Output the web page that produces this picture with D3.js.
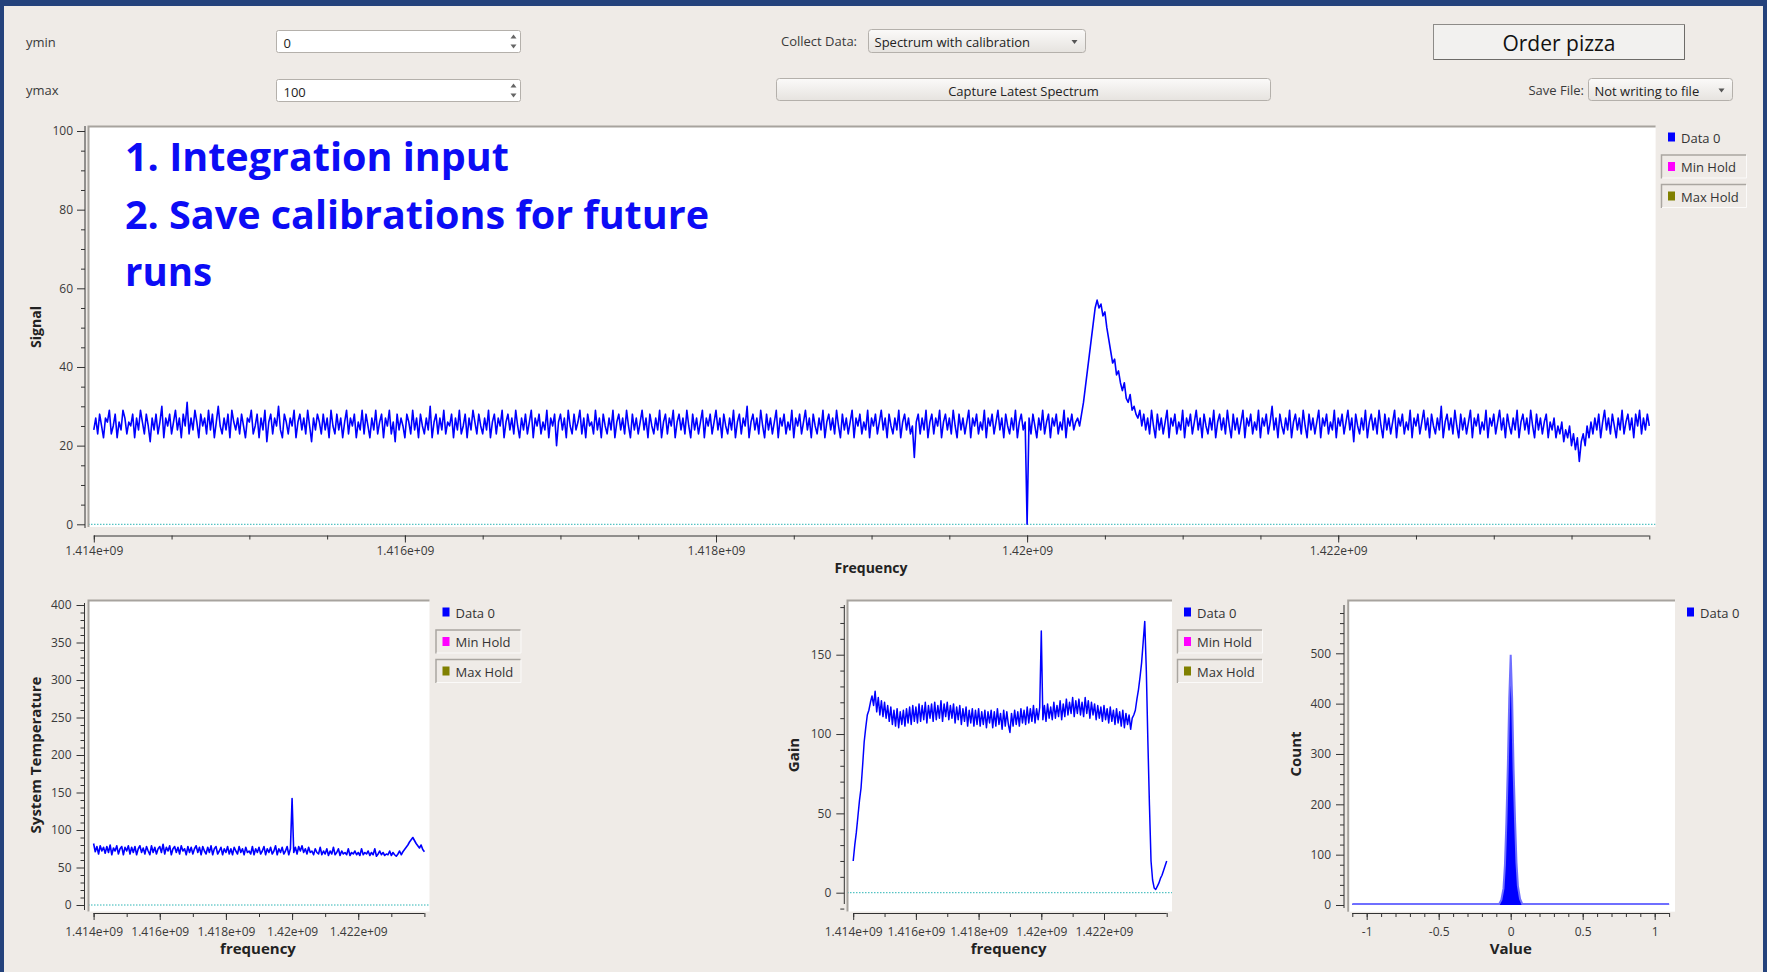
<!DOCTYPE html>
<html>
<head>
<meta charset="utf-8">
<script src="https://cdn.jsdelivr.net/npm/d3@7"></script>
<style>
  body { margin: 0; background: #efebe7; overflow: hidden; }
  svg text { font-family: "Open Sans", "Noto Sans", sans-serif; }
</style>
</head>
<body>
<svg id="app" width="1767" height="972"></svg>
<script>
// ---------------------------------------------------------------
// data
// ---------------------------------------------------------------
const freqStart = 1.414e9;
const freqStop = 1.424e9;

// Signal, 801 bins from 1.414e9 to 1.424e9
const signalValues = [
  24,27,23,28,25,22,27,26,29,23,25,28,22,26,24,29,27,23,26,25,
  28,22,27,24,29,26,23,28,25,21,27,24,28,23,26,30,22,27,25,28,
  23,26,29,24,27,22,28,25,31,23,27,24,29,26,22,28,25,27,23,29,
  24,28,22,26,30,25,23,27,24,28,22,29,26,24,27,23,28,25,22,27,
  26,29,23,25,28,22,27,24,29,21,26,28,23,27,25,30,24,22,28,26,
  23,27,25,29,22,26,28,24,27,23,29,25,21,27,24,28,26,23,28,24,
  27,22,29,25,23,28,24,27,22,26,29,23,27,25,28,22,26,24,29,23,
  28,25,22,27,24,29,23,26,28,22,27,25,29,23,26,21,28,24,27,25,
  22,28,26,23,29,24,27,22,28,25,23,27,24,30,22,26,28,23,27,24,
  29,23,26,25,28,22,27,24,29,23,25,28,22,27,24,29,26,23,28,25,
  23,27,24,29,22,26,28,23,27,25,29,22,26,28,24,27,23,29,25,22,
  27,24,28,23,26,29,22,27,25,28,23,26,24,29,22,27,25,28,20,26,
  28,24,27,22,29,25,23,28,24,26,29,23,27,22,28,25,26,23,29,24,
  27,22,28,25,23,27,24,29,22,26,28,24,27,23,29,25,22,28,24,27,
  23,26,29,24,27,22,28,25,23,27,24,29,22,26,28,23,27,25,29,22,
  26,28,24,27,23,29,25,22,28,24,27,23,26,29,22,27,25,28,23,26,
  29,24,27,22,28,25,23,27,24,29,22,26,28,23,27,25,30,22,26,28,
  24,27,23,29,25,22,28,24,27,23,26,29,22,27,25,28,23,26,24,29,
  22,27,25,28,23,26,29,24,27,22,28,25,23,27,24,29,22,26,28,24,
  27,23,29,25,22,28,24,27,23,26,29,22,27,25,28,23,26,24,29,22,
  27,25,28,23,26,29,24,27,22,28,25,23,27,24,29,22,26,28,24,27,
  23,25,17,26,28,23,27,24,29,22,26,28,23,27,25,29,22,26,28,24,
  27,23,29,25,22,28,24,27,23,26,29,22,27,25,28,23,26,24,29,22,
  27,25,28,23,26,29,24,27,22,28,25,23,27,24,29,22,26,28,24,26,
  0,27,23,28,25,22,27,24,29,23,26,28,22,27,25,28,23,26,24,29,
  22,27,25,28,24,26,27,25,28,31,35,39,43,47,51,55,57,55,56,53,
  54,50,47,44,41,42,38,39,36,34,36,32,31,33,29,30,28,27,29,25,
  28,24,27,23,29,25,22,28,24,27,23,26,29,22,27,25,28,23,26,24,
  29,22,27,25,28,23,26,29,24,27,22,28,25,23,27,24,29,22,26,28,
  24,27,23,29,25,22,28,24,27,23,26,29,22,27,25,28,23,26,24,29,
  22,27,25,28,23,26,30,24,27,22,28,25,23,27,24,29,22,26,28,24,
  27,23,29,25,22,28,24,27,23,26,29,22,27,25,28,23,26,24,29,22,
  27,25,28,23,26,29,24,27,21,28,25,23,27,24,29,22,26,28,24,27,
  23,29,25,22,28,24,27,23,26,29,22,27,25,28,23,26,24,29,22,27,
  25,28,23,26,29,24,27,22,28,25,23,27,24,30,22,26,28,24,27,23,
  29,25,22,28,24,27,23,26,29,22,27,25,28,23,26,24,29,22,27,25,
  28,23,26,29,24,27,22,28,25,23,27,24,29,22,26,28,24,27,23,29,
  25,22,28,24,27,23,26,28,22,26,24,27,22,25,23,26,21,24,22,25,
  20,23,19,22,16,21,23,20,25,22,26,23,27,24,28,22,26,29,24,27,
  23,28,25,22,27,24,29,23,26,28,24,27,22,28,25,29,23,27,24,28,
  25
];

// System temperature, 201 bins
const tempValues = [
  82,71,78,68,79,72,77,69,78,70,80,67,76,72,79,68,75,78,67,77,
  72,79,68,77,70,78,67,75,79,70,76,68,78,72,67,79,70,77,68,75,
  78,70,81,68,77,72,79,67,75,78,70,77,68,79,72,75,67,78,70,77,
  68,75,79,70,77,67,78,72,68,77,70,79,67,75,78,68,72,77,67,75,
  70,78,68,75,67,77,72,68,78,70,75,67,77,70,72,68,78,67,75,70,
  77,68,72,78,67,75,70,77,68,72,79,67,75,70,77,68,72,78,67,75,
  142,70,77,68,78,72,79,70,75,68,77,70,72,67,75,70,68,77,67,72,
  68,75,66,72,68,77,67,70,75,66,72,68,70,67,75,66,70,68,72,67,
  70,66,75,67,70,68,72,66,70,67,75,65,68,72,67,70,66,68,67,72,
  66,70,67,65,68,72,67,71,74,77,80,84,87,90,86,82,79,76,80,74,
  71
];

// Gain, 201 bins
const gainValues = [
  20,30,38,48,58,66,80,95,104,112,115,120,124,118,127,114,123,112,121,111,
  120,110,118,108,117,106,115,105,116,104,114,106,115,105,116,107,117,106,118,108,
  117,107,119,108,118,109,120,107,118,110,119,108,120,109,118,110,121,108,119,111,
  120,109,118,110,119,107,117,109,118,106,116,108,117,105,115,107,116,105,115,106,
  116,105,114,106,115,104,114,107,115,104,114,105,116,106,113,103,115,105,114,106,
  101,113,105,115,106,114,105,116,107,115,106,117,107,116,108,118,107,116,109,117,
  165,109,118,108,119,110,117,109,120,110,118,111,121,109,119,111,122,112,120,113,
  123,111,121,113,122,112,120,111,123,113,121,110,120,112,119,109,118,110,117,108,
  118,109,116,107,117,108,115,106,116,107,114,105,115,104,113,106,112,103,110,112,
  115,122,128,136,145,158,171,140,95,55,20,8,3,2,4,6,9,11,14,17,
  20
];

// Histogram
const histValues = [-1.1, -0.08, -0.065, -0.05, -0.04, -0.03, -0.02, -0.01, 0, 0.01, 0.02, 0.03, 0.04, 0.05, 0.065, 0.08, 1.1];
const histCounts = [2, 2, 10, 33, 80, 165, 275, 410, 497, 410, 270, 170, 85, 38, 12, 2, 2];

// tick labels
const freqTicks = [1.414e9, 1.416e9, 1.418e9, 1.42e9, 1.422e9];
const signalTicks = [0, 20, 40, 60, 80, 100];
const tempTicks = [0, 50, 100, 150, 200, 250, 300, 350, 400];
const gainTicks = [0, 50, 100, 150];
const countTicks = [0, 100, 200, 300, 400, 500];
const valueTicks = [-1, -0.5, 0, 0.5, 1];

const legendNames = ["Data 0", "Min Hold", "Max Hold"];
const legendColors = ["#0000ff", "#ff00ff", "#808000"];

const noteLines = ["1. Integration input", "2. Save calibrations for future", "runs"];

// ---------------------------------------------------------------

const svg = d3.select("#app");
const TXT = "#3a3a3a";

const defs = svg.append("defs");
const grad = defs.append("linearGradient").attr("id", "btn").attr("x1", 0).attr("y1", 0).attr("x2", 0).attr("y2", 1);
grad.append("stop").attr("offset", "0%").attr("stop-color", "#fbfaf9");
grad.append("stop").attr("offset", "100%").attr("stop-color", "#e6e3df");

// window edges (desktop behind)
svg.append("rect").attr("x", 0).attr("y", 0).attr("width", 1767).attr("height", 6).attr("fill", "#24427c");
svg.append("rect").attr("x", 0).attr("y", 0).attr("width", 4).attr("height", 972).attr("fill", "#24427c");
svg.append("rect").attr("x", 1763).attr("y", 0).attr("width", 4).attr("height", 972).attr("fill", "#24427c");

const freqFormat = v => (+(v / 1e9).toFixed(4)) + "e+09";

function label(x, y, text, opts = {}) {
    return svg.append("text")
        .attr("x", x).attr("y", y)
        .attr("dominant-baseline", "central")
        .attr("text-anchor", opts.anchor || "start")
        .attr("font-size", opts.size || 13)
        .attr("font-weight", opts.weight || 400)
        .attr("fill", opts.color || TXT)
        .text(text);
}

function spinBox(x, y, w, h, value) {
    svg.append("rect").attr("x", x).attr("y", y).attr("width", w).attr("height", h)
        .attr("rx", 2).attr("fill", "#fff").attr("stroke", "#b4b0ab");
    label(x + 7, y + h / 2 + 1, value, { size: 13, color: "#222" });
    const ax = x + w - 7;
    svg.append("path").attr("d", `M${ax - 3},${y + 8}L${ax + 3},${y + 8}L${ax},${y + 4}Z`).attr("fill", "#666");
    svg.append("path").attr("d", `M${ax - 3},${y + h - 8}L${ax + 3},${y + h - 8}L${ax},${y + h - 4}Z`).attr("fill", "#666");
}

function button(x, y, w, h, text, size) {
    svg.append("rect").attr("x", x).attr("y", y).attr("width", w).attr("height", h)
        .attr("rx", 3).attr("fill", "url(#btn)").attr("stroke", "#b4b0ab");
    label(x + w / 2, y + h / 2 + 1, text, { anchor: "middle", size: size, color: "#222" });
}

function combo(x, y, w, h, text) {
    svg.append("rect").attr("x", x).attr("y", y).attr("width", w).attr("height", h)
        .attr("rx", 3).attr("fill", "url(#btn)").attr("stroke", "#b4b0ab");
    label(x + 6, y + h / 2 + 1, text, { size: 13, color: "#222" });
    const ax = x + w - 11;
    svg.append("path").attr("d", `M${ax - 3},${y + h / 2 - 1}L${ax + 3},${y + h / 2 - 1}L${ax},${y + h / 2 + 3}Z`).attr("fill", "#555");
}

// ---------------------------------------------------------------
// top controls
// ---------------------------------------------------------------
label(26, 42, "ymin");
label(26, 90, "ymax");
spinBox(276.5, 30.5, 244, 22, "0");
spinBox(276.5, 79.5, 244, 22, "100");
label(781, 41, "Collect Data:");
combo(868.5, 29.5, 217, 23, "Spectrum with calibration");
button(776.5, 78.5, 494, 22, "Capture Latest Spectrum", 13);
label(1584, 89.5, "Save File:", { anchor: "end" });
combo(1588.5, 78.5, 144, 22, "Not writing to file");

svg.append("rect").attr("x", 1433.5).attr("y", 24.5).attr("width", 251).attr("height", 35)
    .attr("fill", "#f2f1ef").attr("stroke", "#8d8b88");
svg.append("path").attr("d", "M1434,59.5H1684.5V25").attr("stroke", "#6d6b68").attr("fill", "none");
label(1559, 43, "Order pizza", { anchor: "middle", size: 21, color: "#111" });

// ---------------------------------------------------------------
// plots
// ---------------------------------------------------------------
function spectrumPoints(values) {
    const step = (freqStop - freqStart) / (values.length - 1);
    return values.map((v, i) => [freqStart + i * step, v]);
}

let clipId = 0;

function drawPlot(cfg) {
    const g = svg.append("g");
    const [cx, cy, cw, ch] = cfg.canvas;

    const x = d3.scaleLinear().domain(cfg.xDomain).range(cfg.xRange);
    const y = d3.scaleLinear().domain(cfg.yDomain).range(cfg.yRange);

    // canvas with sunken frame
    g.append("rect").attr("x", cx).attr("y", cy).attr("width", cw).attr("height", ch).attr("fill", "#fff");
    g.append("path").attr("d", `M${cx + 0.5},${cy + ch}V${cy + 0.5}H${cx + cw}`)
        .attr("stroke", "#a7a39e").attr("stroke-width", 2).attr("fill", "none");

    const id = "clip" + (clipId++);
    defs.append("clipPath").attr("id", id).append("rect")
        .attr("x", cx + 1).attr("y", cy + 1).attr("width", cw - 1).attr("height", ch - 1);
    const plotArea = g.append("g").attr("clip-path", `url(#${id})`);

    // axes
    const yAxisG = g.append("g").attr("transform", `translate(${cfg.yAxisX},0)`)
        .call(d3.axisLeft(y).tickValues(cfg.yTicks).tickSize(8).tickPadding(cfg.yPad).tickFormat(d => String(d)));
    const yMinorG = g.append("g").attr("transform", `translate(${cfg.yAxisX},0)`)
        .call(d3.axisLeft(y).tickValues(cfg.yMinor.filter(v => !cfg.yTicks.includes(v))).tickSize(4).tickFormat(""));
    const xAxisG = g.append("g").attr("transform", `translate(0,${cfg.xAxisY})`)
        .call(d3.axisBottom(x).tickValues(cfg.xTicks).tickSize(7).tickPadding(cfg.xPad).tickFormat(cfg.xFormat));
    const xMinorG = g.append("g").attr("transform", `translate(0,${cfg.xAxisY})`)
        .call(d3.axisBottom(x).tickValues(cfg.xMinor).tickSize(4).tickFormat(""));

    [yAxisG, yMinorG, xAxisG, xMinorG].forEach(a => {
        a.select(".domain").remove();
        a.attr("font-family", null).attr("font-size", 12);
        a.selectAll("line").attr("stroke", "#333");
        a.selectAll("text").attr("fill", TXT);
    });

    // backbones
    g.append("line").attr("x1", cfg.yAxisX).attr("x2", cfg.yAxisX)
        .attr("y1", cfg.ySpan[0]).attr("y2", cfg.ySpan[1]).attr("stroke", "#333");
    g.append("line").attr("x1", cfg.xRange[0]).attr("x2", cfg.xRange[1])
        .attr("y1", cfg.xAxisY + 0.5).attr("y2", cfg.xAxisY + 0.5).attr("stroke", "#333");

    // titles
    svg.append("text").attr("x", cfg.xTitle[0]).attr("y", cfg.xTitle[1])
        .attr("text-anchor", "middle").attr("dominant-baseline", "central")
        .attr("font-size", cfg.titleSize).attr("font-weight", 700).attr("fill", "#222")
        .text(cfg.xLabel);
    svg.append("text")
        .attr("transform", `translate(${cfg.yTitle[0]},${cfg.yTitle[1]}) rotate(-90)`)
        .attr("text-anchor", "middle").attr("dominant-baseline", "central")
        .attr("font-size", cfg.titleSize).attr("font-weight", 700).attr("fill", "#222")
        .text(cfg.yLabel);

    // legend
    cfg.legend.names.forEach((name, i) => {
        const cyL = cfg.legend.y + i * 29.5;
        const lx = cfg.legend.x;
        if (i > 0) {
            g.append("path").attr("d", `M${lx + 0.5},${cyL + 12}V${cyL - 11.5}H${lx + 85}`)
                .attr("stroke", "#aaa6a1").attr("stroke-width", 1.5).attr("fill", "none");
            g.append("path").attr("d", `M${lx + 1},${cyL + 11.5}H${lx + 85.5}V${cyL - 11}`)
                .attr("stroke", "#fbfaf9").attr("fill", "none");
        }
        g.append("rect").attr("x", lx + 7).attr("y", cyL - 4.5).attr("width", 7).attr("height", 9)
            .attr("fill", legendColors[i]);
        g.append("text").attr("x", lx + 20).attr("y", cyL + 0.5)
            .attr("dominant-baseline", "central").attr("font-size", 13).attr("fill", "#333")
            .text(name);
    });

    return { x, y, plotArea, cfg };
}

function zeroLine(p) {
    const [cx, , cw] = p.cfg.canvas;
    p.plotArea.append("line")
        .attr("x1", cx).attr("x2", cx + cw)
        .attr("y1", p.y(0)).attr("y2", p.y(0))
        .attr("stroke", "#2cb5b5").attr("stroke-width", 1).attr("stroke-dasharray", "1.5,1.5");
}

function trace(p, points, width) {
    const line = d3.line().x(d => p.x(d[0])).y(d => p.y(d[1]));
    p.plotArea.append("path").datum(points)
        .attr("d", line).attr("fill", "none")
        .attr("stroke", "#0000ff").attr("stroke-width", width).attr("stroke-linejoin", "round");
}

const freqMinorMain = d3.range(0, 21).map(k => freqStart + k * 0.5e6);
const freqMinorSmall = d3.range(0, 11).map(k => freqStart + k * 1e6);

// main signal plot
const mainPlot = drawPlot({
    canvas: [88, 126, 1567.6, 401],
    xDomain: [freqStart, freqStop], xRange: [93.8, 1649.3],
    yDomain: [0, 100], yRange: [524.3, 131],
    yAxisX: 85, ySpan: [126, 528], yTicks: signalTicks, yMinor: d3.range(0, 101, 5), yPad: 4,
    xAxisY: 535.5, xTicks: freqTicks, xMinor: freqMinorMain, xPad: 4, xFormat: freqFormat,
    xLabel: "Frequency", xTitle: [871, 567], yLabel: "Signal", yTitle: [35, 327], titleSize: 14,
    legend: { x: 1661, y: 137, names: legendNames }
});
zeroLine(mainPlot);
trace(mainPlot, spectrumPoints(signalValues), 1.6);

// annotation text
noteLines.forEach((t, i) => {
    const widths = [384, 584, 87];
    svg.append("text").attr("x", 125).attr("y", 171 + i * 57.5)
        .attr("font-family", "Lato, 'Open Sans', sans-serif")
        .attr("font-size", 40).attr("font-weight", 700).attr("fill", "#0c0cf5")
        .attr("textLength", widths[i]).attr("lengthAdjust", "spacingAndGlyphs")
        .text(t);
});

// system temperature
const tempPlot = drawPlot({
    canvas: [88, 600, 341.5, 311.5],
    xDomain: [freqStart, freqStop], xRange: [93.6, 424.4],
    yDomain: [0, 400], yRange: [905, 605],
    yAxisX: 84.5, ySpan: [603, 910], yTicks: tempTicks, yMinor: d3.range(0, 401, 10), yPad: 5,
    xAxisY: 913, xTicks: freqTicks, xMinor: freqMinorSmall, xPad: 7, xFormat: freqFormat,
    xLabel: "frequency", xTitle: [258, 948], yLabel: "System Temperature", yTitle: [35, 755], titleSize: 15,
    legend: { x: 435.5, y: 612, names: legendNames }
});
zeroLine(tempPlot);
trace(tempPlot, spectrumPoints(tempValues), 1.6);

// gain
const gainPlot = drawPlot({
    canvas: [847, 600, 325, 311.5],
    xDomain: [freqStart, freqStop], xRange: [853.2, 1166.7],
    yDomain: [0, 150], yRange: [892.7, 654.7],
    yAxisX: 844.3, ySpan: [605, 904], yTicks: gainTicks, yMinor: d3.range(-10, 181, 10), yPad: 5,
    xAxisY: 913, xTicks: freqTicks, xMinor: freqMinorSmall, xPad: 7, xFormat: freqFormat,
    xLabel: "frequency", xTitle: [1008.6, 948], yLabel: "Gain", yTitle: [793, 755], titleSize: 15,
    legend: { x: 1177, y: 612, names: legendNames }
});
zeroLine(gainPlot);
trace(gainPlot, spectrumPoints(gainValues), 1.5);

// histogram
const histPlot = drawPlot({
    canvas: [1347.7, 600, 327.3, 311.7],
    xDomain: [-1.1, 1.1], xRange: [1352.3, 1669.1],
    yDomain: [0, 500], yRange: [905, 653.3],
    yAxisX: 1344, ySpan: [605, 908], yTicks: countTicks, yMinor: d3.range(0, 597, 20), yPad: 5,
    xAxisY: 913, xTicks: valueTicks, xMinor: d3.range(-11, 12).map(k => k / 10), xPad: 7, xFormat: d => String(d),
    xLabel: "Value", xTitle: [1510.7, 948], yLabel: "Count", yTitle: [1295, 754], titleSize: 15,
    legend: { x: 1680, y: 612, names: ["Data 0"] }
});
const histPoints = d3.zip(histValues, histCounts);
histPlot.plotArea.append("path").datum(histPoints)
    .attr("d", d3.area().x(d => histPlot.x(d[0])).y0(histPlot.y(0)).y1(d => histPlot.y(d[1])))
    .attr("fill", "#0000ff");
histPlot.plotArea.append("path").datum(histPoints)
    .attr("d", d3.line().x(d => histPlot.x(d[0])).y(d => histPlot.y(d[1])))
    .attr("fill", "none").attr("stroke", "#6f6fff").attr("stroke-width", 2);
</script>
</body>
</html>
